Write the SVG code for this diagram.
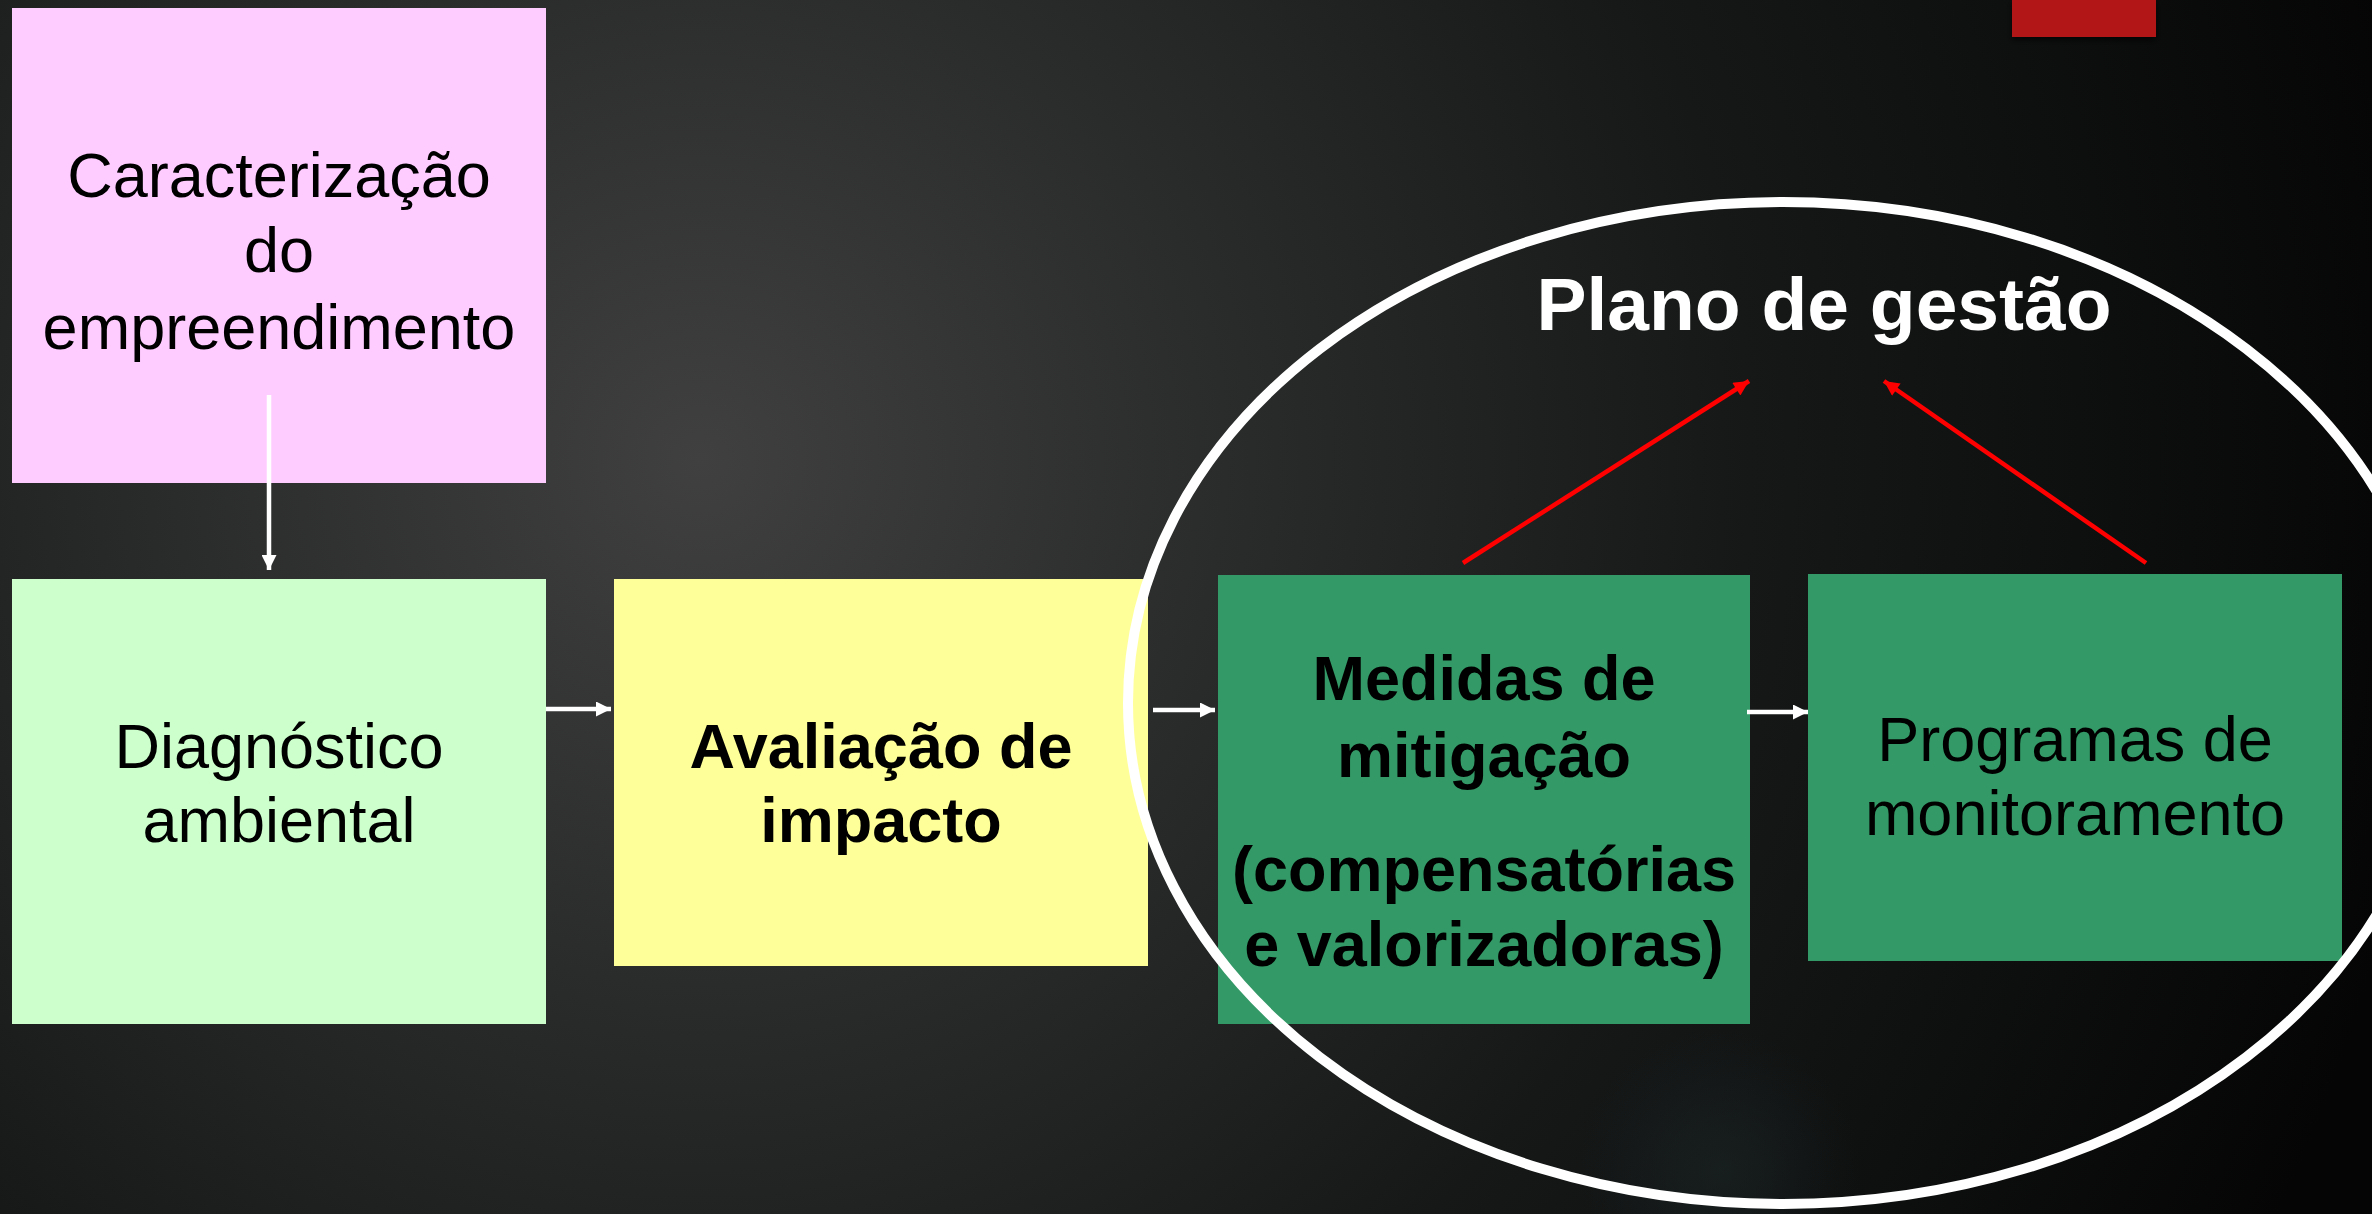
<svg xmlns="http://www.w3.org/2000/svg" width="2372" height="1214" viewBox="0 0 2372 1214">
  <style>
    .t { font-family: "Liberation Sans", Arial, sans-serif; font-size: 63px; fill: #000; text-anchor: middle; }
    .b { font-weight: bold; }
    .title { font-family: "Liberation Sans", Arial, sans-serif; font-size: 75px; font-weight: bold; fill: #fff; text-anchor: middle; }
    .wl { stroke: #fff; stroke-width: 4.5; fill: none; }
    .rl { stroke: #ff0000; stroke-width: 4.5; fill: none; }
  </style>
  <defs>
    <radialGradient id="bg" gradientUnits="userSpaceOnUse" cx="700" cy="460" r="1750">
      <stop offset="0" stop-color="#404040"/>
      <stop offset="0.3" stop-color="#2a2b2b"/>
      <stop offset="0.6" stop-color="#161818"/>
      <stop offset="1" stop-color="#050505"/>
    </radialGradient>
    <radialGradient id="glow" gradientUnits="userSpaceOnUse" cx="1720" cy="1170" r="140">
      <stop offset="0" stop-color="#1c2626" stop-opacity="0.6"/>
      <stop offset="1" stop-color="#1c2626" stop-opacity="0"/>
    </radialGradient>
    <filter id="shadow" x="-20%" y="-20%" width="140%" height="160%">
      <feDropShadow dx="0" dy="3" stdDeviation="3" flood-color="#000" flood-opacity="0.7"/>
    </filter>
    <marker id="aw" viewBox="0 0 10 10" refX="10" refY="5" markerUnits="userSpaceOnUse" markerWidth="17" markerHeight="15" orient="auto">
      <path d="M0,0 L10,5 L0,10 z" fill="#fff"/>
    </marker>
    <marker id="ar" viewBox="0 0 10 10" refX="10" refY="5" markerUnits="userSpaceOnUse" markerWidth="17" markerHeight="15" orient="auto">
      <path d="M0,0 L10,5 L0,10 z" fill="#ff0000"/>
    </marker>
  </defs>

  <rect x="0" y="0" width="2372" height="1214" fill="url(#bg)"/>
  <rect x="1500" y="1000" width="450" height="214" fill="url(#glow)"/>
  <rect x="2012" y="0" width="144" height="37" fill="#b31814" filter="url(#shadow)"/>

  <g id="caracterizacao">
    <rect x="12" y="8" width="534" height="475" fill="#ffccff"/>
    <text class="t" x="279" y="197">Caracterização</text>
    <text class="t" x="279" y="272">do</text>
    <text class="t" x="279" y="349">empreendimento</text>
  </g>

  <g id="diagnostico">
    <rect x="12" y="579" width="534" height="445" fill="#ccffcc"/>
    <text class="t" x="279" y="768">Diagnóstico</text>
    <text class="t" x="279" y="842">ambiental</text>
  </g>

  <g id="avaliacao">
    <rect x="614" y="579" width="534" height="387" fill="#ffff99"/>
    <text class="t b" x="881" y="768">Avaliação de</text>
    <text class="t b" x="881" y="842">impacto</text>
  </g>

  <g id="medidas">
    <rect x="1218" y="575" width="532" height="449" fill="#339966"/>
    <text class="t b" x="1484" y="700">Medidas de</text>
    <text class="t b" x="1484" y="777">mitigação</text>
    <text class="t b" x="1484" y="891">(compensatórias</text>
    <text class="t b" x="1484" y="966">e valorizadoras)</text>
  </g>

  <g id="programas">
    <rect x="1808" y="574" width="534" height="387" fill="#339966"/>
    <text class="t" x="2075" y="761">Programas de</text>
    <text class="t" x="2075" y="835">monitoramento</text>
  </g>

  <g id="plano-de-gestao">
    <ellipse cx="1783" cy="703" rx="655" ry="501" fill="none" stroke="#fff" stroke-width="10"/>
    <text class="title" x="1824" y="330">Plano de gestão</text>
  </g>

  <g id="connectors">
    <line class="wl" x1="269" y1="395" x2="269" y2="570" marker-end="url(#aw)"/>
    <line class="wl" x1="546" y1="709" x2="611" y2="709" marker-end="url(#aw)"/>
    <line class="wl" x1="1153" y1="710" x2="1215" y2="710" marker-end="url(#aw)"/>
    <line class="wl" x1="1747" y1="712" x2="1808" y2="712" marker-end="url(#aw)"/>
    <line class="rl" x1="1463" y1="563" x2="1749" y2="381" marker-end="url(#ar)"/>
    <line class="rl" x1="2146" y1="563" x2="1884" y2="381" marker-end="url(#ar)"/>
  </g>
</svg>
